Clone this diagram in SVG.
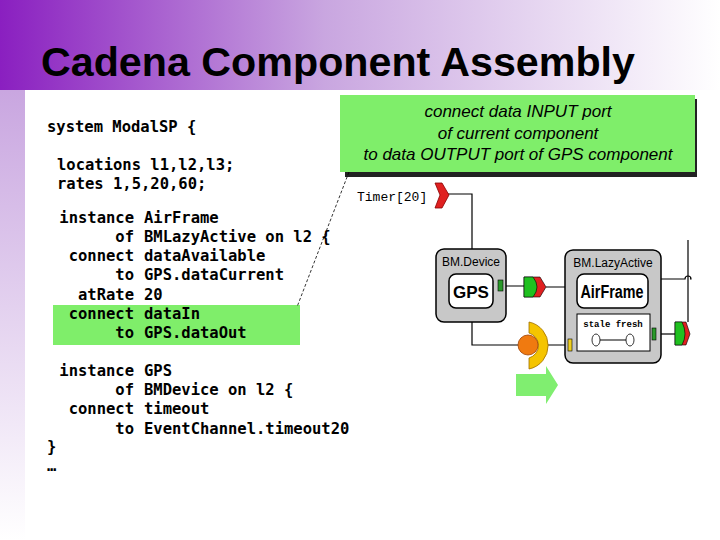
<svg xmlns="http://www.w3.org/2000/svg" width="720" height="540" viewBox="0 0 720 540">
<defs>
<linearGradient id="hdr" x1="0" y1="0" x2="1" y2="0"><stop offset="0" stop-color="#8a1fc0"/><stop offset="0.45" stop-color="#c9a6e0"/><stop offset="1" stop-color="#ffffff"/></linearGradient>
<linearGradient id="side" x1="0" y1="0" x2="0" y2="1"><stop offset="0" stop-color="#c9a6e0"/><stop offset="1" stop-color="#ffffff"/></linearGradient>
<style>
.code{font-family:"DejaVu Sans Mono",monospace;font-weight:bold;font-size:15.5px;fill:#000}
.k{text-anchor:end}
.ln{stroke:#000;stroke-width:1.2;fill:none}
.box{fill:#c8c8c8;stroke:#000;stroke-width:1.5}
.inner{fill:#fff;stroke:#000;stroke-width:1.5}
.lbl{font-family:"Liberation Sans",sans-serif;font-size:12px;fill:#000}
</style>
</defs>
<rect width="720" height="540" fill="#fff"/>
<rect x="0" y="0" width="720" height="90" fill="url(#hdr)"/>
<rect x="0" y="90" width="25" height="450" fill="url(#side)"/>
<text x="41" y="76" font-family="Liberation Sans,sans-serif" font-weight="bold" font-size="40" fill="#000" textLength="594" lengthAdjust="spacingAndGlyphs">Cadena Component Assembly</text>
<rect x="53" y="305" width="247" height="40" fill="#7fee6a"/>
<g id="code" class="code">
<text x="47" y="132">system ModalSP {</text>
<text x="57" y="170">locations l1,l2,l3;</text>
<text x="57" y="189">rates 1,5,20,60;</text>
<text class="k" x="134" y="223">instance</text><text x="144" y="223">AirFrame</text>
<text class="k" x="134" y="242">of</text><text x="144" y="242">BMLazyActive on l2 {</text>
<text class="k" x="134" y="261">connect</text><text x="144" y="261">dataAvailable</text>
<text class="k" x="134" y="280">to</text><text x="144" y="280">GPS.dataCurrent</text>
<text class="k" x="134" y="300">atRate</text><text x="144" y="300">20</text>
<text class="k" x="134" y="319">connect</text><text x="144" y="319">dataIn</text>
<text class="k" x="134" y="338">to</text><text x="144" y="338">GPS.dataOut</text>
<text class="k" x="134" y="376">instance</text><text x="144" y="376">GPS</text>
<text class="k" x="134" y="395">of</text><text x="144" y="395">BMDevice on l2 {</text>
<text class="k" x="134" y="414">connect</text><text x="144" y="414">timeout</text>
<text class="k" x="134" y="434">to</text><text x="144" y="434">EventChannel.timeout20</text>
<text x="47" y="452">}</text>
<text x="47" y="471">…</text>
</g>
<g id="callout">
<rect x="345" y="99" width="352" height="78" fill="#222"/>
<rect x="340" y="95" width="355" height="77" fill="#7fee6a"/>
<g font-family="Liberation Sans,sans-serif" font-style="italic" font-size="17" text-anchor="middle" fill="#000">
<text x="518" y="117">connect data INPUT port</text>
<text x="518" y="139">of current component</text>
<text x="518" y="160">to data OUTPUT port of GPS component</text>
</g>
</g>
<g id="connectors">
<line x1="349" y1="172" x2="297" y2="307" stroke="#000" stroke-width="0.8" stroke-dasharray="3,2"/>
<path class="ln" d="M448 194 H472 V250"/>
<path class="ln" d="M502 286 H524 M546 287 H565"/>
<path class="ln" d="M656 334 H675"/>
<path class="ln" d="M661 279 H685 a3 3 0 0 1 6 0 H690"/>
<path class="ln" d="M688 240 V322"/>
<path class="ln" d="M472 322 V345 H518 M546 345 H568"/>
</g>
<g id="timer">
<text x="357" y="201" font-family="Liberation Mono,monospace" font-size="13">Timer[20]</text>
<path d="M435 183 H442 L449 195 L442 208 H435 L440 195 Z" fill="#e02020" stroke="#800" stroke-width="0.8"/>
</g>
<g id="bmdevice">
<rect class="box" x="436" y="249" width="70" height="73" rx="8"/>
<text class="lbl" x="471" y="266" text-anchor="middle">BM.Device</text>
<rect class="inner" x="449" y="274" width="44" height="34" rx="7"/>
<text x="471" y="298" text-anchor="middle" font-family="Liberation Sans,sans-serif" font-weight="bold" font-size="17">GPS</text>
<rect x="498" y="280" width="5" height="11" fill="#2a9a2a" stroke="#000" stroke-width="0.6"/>
</g>
<g id="link1">
<path d="M524 277 H540 L546 287 L540 297 H524 Z" fill="#e02020" stroke="#000" stroke-width="0.6"/>
<path d="M524 277 H533 Q541 287 533 297 H524 Z" fill="#20c020" stroke="#000" stroke-width="0.6"/>
</g>
<g id="bmlazy">
<rect class="box" x="565" y="250" width="96" height="113" rx="8"/>
<text class="lbl" x="613" y="267" text-anchor="middle">BM.LazyActive</text>
<rect class="inner" x="577" y="274" width="71" height="34" rx="7"/>
<text x="612" y="298" text-anchor="middle" font-family="Liberation Sans,sans-serif" font-weight="bold" font-size="18" textLength="63" lengthAdjust="spacingAndGlyphs">AirFrame</text>
<rect x="577" y="314" width="73" height="37" fill="#fff" stroke="#000"/>
<text x="613" y="327" text-anchor="middle" font-family="Liberation Mono,monospace" font-weight="bold" font-size="9">stale fresh</text>
<ellipse cx="596" cy="340" rx="4" ry="6" fill="#fff" stroke="#000" stroke-width="0.8"/>
<ellipse cx="630" cy="340" rx="4" ry="6" fill="#fff" stroke="#000" stroke-width="0.8"/>
<line x1="600" y1="340" x2="626" y2="340" stroke="#000"/>
<rect x="652" y="328" width="4" height="12" fill="#2a9a2a" stroke="#000" stroke-width="0.6"/>
<rect x="568" y="339" width="4" height="12" fill="#f0d020" stroke="#000" stroke-width="0.6"/>
</g>
<g id="link2">
<path d="M675 322 H686 L690 334 L686 345 H675 Z" fill="#e02020" stroke="#000" stroke-width="0.6"/>
<path d="M675 322 H682 Q688 334 682 345 H675 Z" fill="#20c020" stroke="#000" stroke-width="0.6"/>
</g>
<g id="event">
<path d="M529 322 A24 24 0 0 1 529 369 V358 A13 13 0 0 0 529 333 Z" fill="#f5c400" stroke="#a07000" stroke-width="0.8"/>
<circle cx="528" cy="345" r="10" fill="#f07a10" stroke="#a04000" stroke-width="0.8"/>
</g>
<polygon id="arrow" points="516,374 546,374 546,366 558,385 546,404 546,396 516,396" fill="#80ee70"/>
</svg>
